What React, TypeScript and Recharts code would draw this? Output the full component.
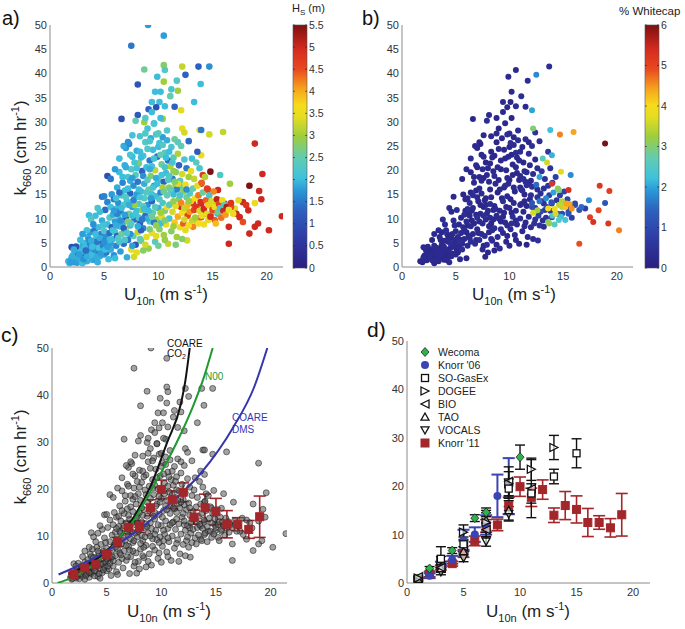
import React from 'react';
import { ScatterChart, Scatter, XAxis, YAxis, ErrorBar } from 'recharts';

const FONT = '"Liberation Sans", Arial, Helvetica, sans-serif';

// ---------- tick labels ----------
const xTicks = [0, 5, 10, 15, 20];
const yTicksFine = [0, 5, 10, 15, 20, 25, 30, 35, 40, 45, 50];
const yTicksCoarse = [0, 10, 20, 30, 40, 50];
const hsTicks = [0, 0.5, 1, 1.5, 2, 2.5, 3, 3.5, 4, 4.5, 5, 5.5];
const hsTickLabels = ['0', '0.5', '1', '1.5', '2', '2.5', '3', '3.5', '4', '4.5', '5', '5.5'];
const wcTicks = [0, 1, 2, 3, 4, 5, 6];

// ---------- individual observations: [U10n, k660, Hs, %whitecap|null] ----------
const pointsA: [number, number, number, number | null][] = [
  [9.05,50,1.8,null],[10.5,47.8,1.8,null],[7.5,45.7,1.5,null],[10.5,41.7,2.8,null],[8.7,40.8,2.6,null],[10.6,40.7,2.3,0.3],[12.2,41.4,3.2,null],[13.7,41.4,1.3,0.4],[14.7,41.4,1.7,null],[12.5,39.7,1.3,1.8],
  [9.9,39.3,2.0,0.3],[10.5,38.3,3.0,null],[8.1,37.7,1.1,null],[13.9,37.8,2.0,null],[11.7,38.5,2.3,0.4],[11.8,36.4,3.0,null],[11.2,36.7,2.2,null],[9.7,36.2,2.0,null],[10.2,36.2,2.0,0.3],[11.1,35.3,2.5,0.4],
  [13.3,34.1,2.0,null],[9.4,34.1,2.0,0.3],[10.1,34.1,2.0,0.2],[10.6,33.2,2.0,0.4],[9.1,32.6,1.3,null],[9.8,33.0,1.0,0.3],[11.5,33.1,1.3,0.3],[12.1,32.4,3.4,2.0],[8.1,31.4,1.2,0.3],[6.6,30.6,1.0,0.2],
  [7.9,30.2,2.5,0.4],[10.4,30.6,3.0,null],[8.7,29.9,3.0,null],[9.6,29.7,2.0,0.3],[13.8,28.3,3.4,2.2],[14.7,27.4,3.3,4.6],[15.97,27.9,3.2,4.4],[13.95,28.3,1.5,null],[12.2,28.6,3.4,3.0],[18.9,25.5,5.0,6.0],
  [14.8,19.7,5.5,3.7],[13.95,23.1,3.5,2.1],[13.6,23.8,1.2,0.6],[15.7,19.0,2.3,1.8],[16.6,17.2,3.0,null],[14.1,19.0,4.7,null],[13.95,17.2,4.8,5.2],[14.6,15.9,4.5,3.0],[15.5,15.9,5.0,5.3],[19.6,19.2,5.0,null],
  [18.4,16.8,5.5,5.2],[19.3,15.7,5.0,5.1],[19.5,14.0,5.0,null],[17.8,13.4,5.0,null],[18.1,12.8,4.8,null],[18.9,13.2,3.5,1.2],[17.4,13.8,3.4,1.8],[17.05,12.1,3.4,0.8],[18.3,11.7,5.0,5.0],[17.5,10.3,5.0,5.1],
  [21.4,10.5,5.0,null],[17.8,9.3,4.5,5.3],[18.9,8.3,5.0,null],[19.2,9.0,5.0,5.2],[18.4,6.9,5.0,null],[20.2,7.6,5.0,4.6],[16.5,8.3,5.0,null],[16.5,4.8,5.0,4.9],[15.2,9.7,4.4,2.3],[15.8,12.1,5.0,4.5],
  [16.1,13.1,4.8,0.8],[15.3,13.1,4.0,4.4],[14.9,12.4,3.5,3.4],[14.3,11.0,4.5,3.6],[13.95,13.1,5.0,1.0],[13.6,12.1,3.0,3.9],[13.2,13.1,4.8,0.5],[12.6,11.7,3.5,3.3],[12.1,12.4,5.0,1.0],[12.65,5.5,3.3,0.5],
  [13.6,9.3,4.0,3.0],[13.95,10.3,4.5,0.7],[14.6,9.7,3.4,2.5],[13.2,8.3,4.2,0.4],[14.9,11.0,2.3,1.0],[15.5,11.0,2.0,1.2],[16.7,12.4,4.5,1.5],[17.2,11.0,5.0,null],[5.3,18.8,1.0,null],[4.8,14.5,1.5,0.3],
  [3.6,10.7,2.0,null],[7.75,2.1,3.3,0.3],[2.0,4.1,1.0,0.3],[12.1,16.6,2.5,0.5],[11.6,16.9,3.0,0.4],
  [1.7,1.2,1.9,0.2],[1.8,0.8,2.0,null],[2.0,1.6,1.8,0.3],[2.1,2.4,2.0,0.2],[2.2,1.0,1.7,null],[2.3,3.0,1.9,0.3],[2.4,1.8,2.1,0.2],[2.5,0.9,1.8,null],[2.6,2.6,1.6,0.3],[2.7,3.6,2.0,0.2],
  [2.8,1.4,1.9,0.3],[2.9,2.2,1.4,0.2],[3.0,4.4,1.9,0.3],[3.0,0.8,2.0,0.2],[3.1,3.0,1.8,0.3],[3.2,1.9,1.7,0.2],[3.3,5.0,2.0,null],[3.3,2.6,1.3,0.3],[3.4,1.2,1.9,0.3],[3.5,3.8,1.8,0.2],
  [3.5,6.2,1.9,0.3],[3.6,2.0,2.1,0.2],[3.7,4.6,1.6,0.3],[3.7,7.2,1.8,0.2],[3.8,3.2,1.2,0.3],[3.9,1.5,1.9,0.2],
  [4.0,5.4,1.8,0.3],[4.0,2.6,2.0,0.2],[4.1,7.6,1.5,0.4],[4.2,4.0,1.9,null],[4.2,1.4,1.8,0.3],[4.3,6.3,2.1,0.2],[4.4,3.0,1.6,0.3],[4.5,5.0,1.3,0.4],[4.5,8.2,2.0,null],[4.6,2.2,1.9,0.3],
  [4.7,4.2,1.8,0.2],[4.7,6.8,1.5,0.3],[4.8,3.4,2.0,null],[4.8,9.6,1.9,0.4],[4.9,5.6,1.2,0.3],[5.0,2.6,1.8,0.2],[5.0,7.4,2.2,0.3],[5.1,4.6,1.9,null],[5.1,11.8,1.4,0.4],[5.2,6.2,1.7,0.3],
  [5.2,3.0,1.5,0.2],[5.3,8.8,2.0,0.3],[5.3,13.4,1.6,null],[5.4,5.2,1.9,0.4],[5.4,1.6,2.0,0.3],[5.5,10.2,2.3,0.2],[5.5,7.0,1.4,0.3],
  [5.6,3.6,1.9,0.4],[5.6,12.4,2.1,null],[5.7,8.2,1.3,0.3],[5.7,15.0,1.8,0.2],[5.8,5.8,2.0,0.3],[5.8,10.8,1.9,0.4],[5.9,2.4,1.7,null],[5.9,14.0,1.5,0.3],[6.0,7.2,2.2,0.2],[6.0,9.4,1.8,0.3],
  [6.1,12.0,2.0,0.4],[6.1,4.4,1.6,0.3],[6.2,16.4,1.9,null],[6.2,6.4,1.3,0.2],[6.3,10.6,2.4,0.3],[6.3,13.2,1.7,0.4],[6.4,8.4,2.0,0.3],[6.4,19.6,2.0,0.2],[6.5,3.2,1.8,null],[6.5,11.6,1.5,0.3],
  [6.6,14.8,2.2,0.4],[6.6,6.8,2.6,0.3],[6.7,9.0,1.9,0.2],[6.7,17.4,1.6,0.3],[6.8,12.8,2.3,null],[6.8,4.8,1.4,0.4],[6.9,21.0,1.9,0.3],[6.9,15.8,2.0,0.2],[7.0,7.8,3.3,0.3],[7.0,10.2,1.2,0.4],[7.0,24.6,1.8,0.3],
  [7.1,13.6,2.1,0.2],[7.1,2.0,1.9,null],[7.2,18.6,2.2,0.3],[7.2,5.6,1.5,0.4],[7.3,11.0,2.6,0.3],[7.3,25.4,1.6,0.2],[7.4,15.2,1.3,0.3],[7.4,8.6,2.0,null],[7.5,20.2,2.3,0.4],[7.5,3.6,3.4,0.3],
  [7.6,12.4,1.8,0.2],[7.6,22.8,2.0,0.3],[7.7,6.4,2.5,0.4],[7.7,16.8,1.7,null],[7.8,9.8,1.4,0.3],[7.8,14.2,2.1,0.2],[7.9,19.0,2.4,0.3],[7.9,4.6,1.1,0.4],[8.0,11.6,2.0,0.3],[8.0,24.0,1.9,null],
  [8.1,7.2,3.2,0.2],[8.1,17.6,1.5,0.3],[8.2,13.0,2.3,0.4],[8.2,21.4,2.7,0.3],[8.3,9.0,1.2,0.2],[8.3,27.0,2.2,0.3],[8.4,15.6,2.0,null],[8.4,5.4,2.6,0.4],[8.5,19.8,1.3,0.3],[8.5,11.8,2.9,0.2],
  [8.6,23.0,2.1,0.3],[8.6,8.0,1.6,0.4],[8.7,14.2,2.4,null],[8.7,17.2,1.9,0.3],[8.8,25.8,2.3,0.2],[8.8,10.6,1.4,0.3],[8.9,6.2,3.4,0.4],[8.9,20.6,2.0,0.3],[9.0,12.8,1.7,null],[9.0,28.6,2.1,0.2],
  [9.1,16.0,2.6,0.3],[9.1,3.8,2.9,0.4],[9.2,22.0,1.5,0.3],[9.2,9.4,2.2,0.2],[9.3,18.8,2.8,null],[9.3,26.6,1.9,0.3],[9.4,13.6,1.3,0.4],[9.4,7.0,3.5,0.3],[9.5,24.2,2.0,0.2],[9.5,11.2,2.5,0.3],
  [9.6,29.6,2.2,null],[9.6,16.8,1.8,0.4],[9.7,20.0,3.2,0.3],[9.7,5.2,2.4,0.2],[9.8,14.6,2.0,0.3],[9.8,27.4,2.3,0.4],[9.9,9.8,3.0,null],[9.9,22.8,1.4,0.3],[10.0,18.0,2.4,0.2],[10.0,12.2,1.9,0.3],
  [10.1,25.6,2.1,0.4],[10.1,7.8,2.8,0.3],[10.2,15.4,1.6,null],[10.2,30.8,2.0,0.2],[10.3,21.2,2.6,0.3],[10.3,10.4,3.4,0.4],[10.4,13.2,2.2,0.3],[10.4,26.8,1.8,0.2],[10.5,17.6,1.3,null],[10.5,6.6,3.0,0.3],
  [10.6,23.6,2.3,0.4],[10.6,11.6,2.7,0.3],[10.7,19.4,2.0,0.2],[10.7,8.8,3.5,0.3],[10.8,14.8,2.5,null],[10.8,26.2,1.9,0.4],[10.9,22.0,1.4,0.3],[10.9,4.8,3.2,0.2],[11.0,16.4,2.9,0.3],[11.0,10.0,2.1,0.4],
  [11.1,20.8,3.1,null],[11.1,13.0,3.6,0.3],[11.2,24.8,2.2,0.2],[11.2,7.4,2.8,0.3],[11.3,18.2,1.5,0.4],[11.3,11.4,3.3,0.3],[11.4,22.6,2.4,null],[11.4,15.0,2.0,0.2],[11.5,9.2,3.8,0.3],[11.5,26.4,2.6,0.4],
  [11.6,19.6,2.8,0.3],[11.6,12.6,3.4,0.2],[11.7,16.0,1.6,null],[11.7,6.2,3.0,0.3],[11.8,23.4,3.1,0.4],[11.8,10.4,4.0,0.3],[11.9,14.0,2.7,0.2],[11.9,21.0,1.3,0.3],
  [12.0,8.2,3.5,0.4],[12.0,17.8,2.4,0.3],[12.1,13.2,4.2,1.2],[12.1,25.0,2.5,0.5],[12.2,11.2,3.7,3.6],[12.2,19.2,3.3,0.4],[12.3,15.6,2.9,null],[12.3,9.0,4.4,0.5],[12.4,22.2,2.2,0.3],[12.4,12.2,3.2,0.6],
  [12.5,17.0,3.6,1.5],[12.5,7.6,3.4,null],[12.6,14.4,2.6,0.5],[12.6,20.4,1.5,0.4],[12.7,10.6,4.6,0.8],[12.7,12.8,3.9,null],[12.8,18.6,3.0,2.0],[12.8,8.6,3.7,0.5],[12.9,15.2,2.3,0.4],[12.9,11.4,4.1,1.0],
  [13.0,19.8,3.5,0.6],[13.0,13.6,3.8,0.5],[13.1,9.6,3.2,0.4],[13.1,22.4,2.0,2.6],[13.2,16.2,2.5,0.5],[13.3,11.8,4.6,0.7],[13.3,18.2,3.2,0.5],[13.4,14.2,3.6,1.8],[13.4,10.2,3.0,0.5],[13.5,21.6,2.4,3.6],
  [13.5,12.4,4.8,0.9],[13.6,16.8,3.4,0.6],[13.7,9.0,3.7,3.2],[13.7,14.8,4.3,0.8],[13.8,11.6,3.3,0.6],[13.8,20.4,2.2,0.5],[13.9,13.4,4.9,1.2],[14.0,17.4,4.4,0.7],[14.0,10.6,3.5,2.4],[14.1,15.4,2.6,2.0],
  [14.2,12.0,5.0,3.9],[14.2,8.8,3.6,2.6],[14.3,18.6,3.1,0.8],[14.4,13.8,4.4,0.6],[14.5,11.0,3.4,1.0],[14.5,16.2,4.7,3.1],[14.6,12.8,3.8,3.5],[14.7,14.8,2.2,0.8],[14.8,10.4,4.9,2.2],[14.9,13.6,3.3,3.4],
  [15.0,11.8,4.5,null],[15.1,15.6,4.2,0.9],[15.2,12.4,3.5,4.2],[15.3,9.0,3.9,null],[15.4,14.0,5.1,0.9],[15.5,11.4,2.6,1.0],[15.6,13.0,4.6,4.4],[15.7,12.2,2.1,0.9],[15.8,10.2,4.3,0.8],[15.9,13.8,3.6,null],
  [16.0,11.6,5.0,null],[16.1,12.8,2.4,1.0],[16.2,10.8,4.1,null],[16.3,12.4,5.2,null],[16.5,11.8,3.4,1.2],[16.7,13.2,4.8,null],[16.9,11.0,3.5,null],
  [3.2,4.0,2.0,0.3],[3.6,5.6,1.7,0.2],[4.4,1.0,1.9,0.3],[4.9,8.6,2.1,0.4],[5.6,4.8,1.8,0.3],[6.0,1.8,2.0,0.2],[6.2,11.0,1.6,0.3],[6.4,5.2,2.2,0.4],[6.8,8.0,1.3,null],[7.0,14.4,2.3,0.3],
  [7.2,9.4,2.8,0.2],[7.4,6.8,1.7,0.3],[7.6,10.6,2.0,0.4],[7.8,12.8,3.0,0.3],[8.0,3.0,3.4,0.2],[8.0,15.0,1.8,null],[8.2,10.2,2.2,0.3],[8.4,7.6,1.3,0.4],[8.6,12.6,2.5,0.3],[8.8,4.6,3.3,0.2],
  [9.0,10.0,1.9,0.3],[9.2,7.8,2.7,0.4],[9.4,15.0,2.1,null],[9.6,9.2,1.5,0.3],[9.8,6.4,3.4,0.2],[10.0,4.4,2.6,0.3],[10.2,9.0,2.0,0.4],[10.4,16.4,3.1,0.3],[10.6,5.6,2.9,0.2],[10.8,12.4,3.6,null],
  [11.0,18.8,2.3,0.3],[11.2,15.8,2.0,0.4],[11.4,8.4,3.0,0.3],[11.6,4.6,2.7,0.2],[11.8,17.2,3.4,0.3],[12.0,14.8,2.2,0.4],[12.2,5.8,2.8,0.3],[12.4,9.8,3.3,0.5],[12.6,16.0,1.7,0.4],[12.8,13.6,2.9,1.6],
  [7.4,17.8,1.9,0.3],[7.8,21.6,2.2,0.2],[8.2,16.0,2.0,0.3],[8.6,18.8,1.7,0.4],[9.0,24.4,2.3,0.3],[9.4,20.8,2.1,null],[9.8,18.4,1.9,0.3],[10.2,23.2,2.5,0.2],[10.6,20.6,2.2,0.3],[11.0,23.8,2.0,0.4],
  [11.4,19.8,2.9,0.3],[11.8,25.8,2.4,0.2],[8.4,22.6,2.0,0.3],[9.2,26.0,2.2,null],[10.0,27.6,2.4,0.3],[10.8,28.2,2.3,0.4],[7.6,27.2,2.1,0.3],[8.8,30.8,2.3,0.2],[9.4,32.0,2.0,0.3],[12.8,26.0,1.4,0.4],[12.4,27.8,3.3,0.5],
  [2.4,4.2,1.1,0.3],[2.8,5.6,2.0,0.2],[3.4,7.6,2.1,0.3],[3.8,9.8,2.3,0.4],[4.2,10.6,2.0,null],[4.6,11.4,2.0,0.3],[2.2,3.6,1.9,0.2],[3.0,6.8,1.8,0.3],[4.0,8.8,1.7,0.4],[4.4,12.2,2.2,0.3],
  [5.0,14.6,1.6,null],[3.6,2.4,2.0,0.3],[5.6,18.2,1.5,0.2],[6.0,20.2,1.8,0.3],[6.4,22.4,2.0,0.4],[6.8,25.0,1.9,0.3],[7.2,25.8,1.7,0.2],
  [2.3,1.4,1.8,0.2],[2.6,1.9,1.9,0.3],[2.9,3.2,2.0,0.2],[3.1,1.6,1.7,0.3],[3.4,2.2,1.9,0.2],[3.6,3.4,1.8,0.3],[3.9,2.6,2.0,0.2],[4.1,3.6,1.7,0.3],[4.3,2.0,1.9,0.2],[4.5,4.0,2.1,0.3],
  [4.7,2.8,1.8,0.2],[4.9,4.4,1.6,0.3],[5.1,3.6,2.0,0.2],[4.3,5.2,1.5,0.3],[4.6,6.0,1.9,0.2],[3.9,4.2,2.0,0.3],[3.3,3.4,1.4,0.2],[2.7,2.6,1.8,0.3],[3.8,5.4,1.9,0.2],[5.3,4.2,1.8,0.3],
  [5.5,5.6,2.0,0.2],[5.0,5.2,1.7,0.3],[4.2,6.8,2.0,0.2],[2.0,2.0,1.9,0.3],[1.9,1.0,1.8,0.2],
  [5.8,7.6,2.1,0.3],[6.1,8.6,1.9,0.2],[6.3,6.0,2.3,0.3],[6.5,9.6,1.7,0.2],[6.6,12.2,2.0,0.3],[6.9,10.8,1.8,0.2],[7.1,7.0,2.2,0.3],[7.3,12.8,1.9,0.2],[7.5,9.0,2.4,0.3],[7.7,13.8,1.6,0.2],
  [7.9,11.0,2.1,0.3],[8.1,8.4,1.9,0.2],[8.3,14.4,2.2,0.3],[8.5,9.8,1.5,0.2],[8.7,12.0,2.0,0.3],[8.9,15.4,2.3,0.2],[7.2,16.2,2.0,0.3],[7.6,18.4,1.8,0.2],[8.0,20.4,2.1,0.3],[6.4,15.4,1.4,0.2],
  [6.7,18.6,2.0,0.3],[7.0,20.6,1.9,0.2],[7.4,23.2,2.2,0.3],[8.3,23.8,2.0,0.2],[8.8,27.6,2.3,0.3],[6.1,14.2,2.1,0.3],[5.9,11.6,1.8,0.2],[6.9,5.6,2.2,0.3],[7.6,4.4,1.8,0.2],[8.3,5.8,2.5,0.3],[8.6,3.4,2.8,0.2],
  [9.1,11.6,2.0,0.3],[9.3,14.2,1.8,0.2],[9.5,16.4,2.2,0.3],[9.7,12.4,2.4,0.2],[9.9,17.2,2.0,0.3],[10.1,14.0,2.3,0.2],[10.3,19.0,2.1,0.3],[10.5,15.6,2.6,0.2],[10.7,22.6,2.0,0.3],[10.9,18.0,2.3,0.2],
  [11.1,16.0,2.5,0.3],[11.3,21.6,2.2,0.2],[11.5,17.6,2.8,0.3],[9.2,20.2,1.9,0.2],[9.6,22.4,2.1,0.3],[10.0,24.8,2.0,0.2],[10.4,25.2,2.3,0.3],[9.0,18.0,2.4,0.2],[9.8,8.6,2.9,0.3],[10.2,11.2,3.0,0.2],
  [10.6,9.6,2.7,0.3],[11.0,12.8,2.4,0.2],[11.4,13.6,2.9,0.3],[9.4,10.4,2.6,0.2]
];

// ---------- parameterisation curves (panel c): [U10n, k660] ----------
const coareCo2: [number, number][] = [[1.5,1.8],[3,3.6],[4.4,5.7],[6,9.2],[7.5,14.1],[9,20.5],[10.5,29.7],[11.8,38.2],[12.2,43],[12.6,50]];
const n00: [number, number][] = [[0.5,0],[2,1.3],[3,2.6],[4,4.2],[5.8,8.5],[6.5,10.6],[7.5,13.4],[8.5,17.4],[9.6,21.9],[10.7,26.6],[11.8,31.8],[12.9,37.6],[13.9,43.8],[14.7,50]];
const coareDms: [number, number][] = [[0.6,1.8],[2.9,4.2],[4.4,6.0],[7.5,10.6],[10.5,16.3],[13.6,23.3],[16.6,33.2],[18.5,41.7],[19.7,50]];

// ---------- binned means [U10n, k660, error] ----------
const knorr11: [number, number, number][] = [[2,1.8,0.5],[3,3.2,0.5],[4,4.0,0.5],[5,6.1,0.8],[6,8.7,1.0],[7,11.8,1.3],[8,12.0,1.2],[9,16.0,1.7],[10,19.9,2.0],[11,17.7,1.9],[12,19.3,2.0],[13,14.0,1.5],[14,16.0,2.9],[15,15.2,2.8],[16,12.5,2.9],[17,12.5,1.4],[18,11.4,1.9],[19,14.1,4.4]];
const wecoma: [number, number, number][] = [[2,3.0,0.4],[4,6.7,0.6],[6,13.4,0.7],[7,14.6,0.9],[10,26.0,2.5]];
const knorr06: [number, number, number][] = [[2,1.5,0.5],[3,3.8,0.6],[4,4.8,0.8],[5,8.8,2.2],[6,10.0,1.5],[7,12.0,2.0],[8,18.0,4.4],[9,20.0,5.8]];
const soGasEx: [number, number, number][] = [[3,5.0,2.5],[5,8.0,1.5],[9,19.5,2.0],[11,18.5,2.0],[13,22.0,1.5],[15,26.8,3.0]];
const dogee: [number, number, number][] = [[1,1.0,0.3],[3,4.5,1.0],[5,10.5,1.5],[7,12.5,2.0],[9,20.5,2.5],[11,23.5,2.3],[13,28.0,2.5]];
const bio: [number, number, number][] = [[1,1.3,0.3],[3,3.2,0.8],[5,7.5,1.2],[7,11.0,1.5],[9,21.0,3.0],[11,19.5,6.0]];
const tao: [number, number, number][] = [[1,0.8,0.3],[3,3.0,0.8],[5,6.5,1.0],[7,13.0,2.0],[9,15.0,2.0]];
const vocals: [number, number, number][] = [[1,0.6,0.3],[3,2.3,0.6],[5,5.2,0.8],[7,8.6,1.0],[9,14.3,1.5]];
const legendNames = ['Wecoma', "Knorr '06", 'SO-GasEx', 'DOGEE', 'BIO', 'TAO', 'VOCALS', "Knorr '11"];

// ---------- colour map (jet-like) ----------
const JET: [number, number[]][] = [
  [0, [43, 31, 128]], [0.12, [47, 58, 163]], [0.24, [46, 98, 192]], [0.32, [42, 152, 216]], [0.37, [63, 194, 220]],
  [0.45, [96, 203, 181]], [0.54, [156, 206, 62]], [0.62, [228, 220, 34]], [0.67, [246, 220, 27]], [0.74, [246, 160, 30]],
  [0.82, [232, 72, 31]], [0.9, [213, 43, 31]], [1, [125, 16, 16]],
];
function jet(f: number): string {
  const t = Math.max(0, Math.min(1, f));
  for (let i = 1; i < JET.length; i++) {
    if (t <= JET[i][0]) {
      const [f0, c0] = JET[i - 1];
      const [f1, c1] = JET[i];
      const u = (t - f0) / (f1 - f0);
      const c = c0.map((v, k) => Math.round(v + (c1[k] - v) * u));
      return `rgb(${c[0]},${c[1]},${c[2]})`;
    }
  }
  return 'rgb(125,16,16)';
}

// ---------- derived tables ----------
const dataA = pointsA.map(([x, y, h, w]) => ({ x, y, h, w }));
const dataB = dataA.filter((d) => d.w !== null).sort((a, b) => (a.w as number) - (b.w as number));
const toXY = (arr: [number, number][]) => arr.map(([x, y]) => ({ x, y }));
const toXYE = (arr: [number, number, number][]) => arr.map(([x, y, e]) => ({ x, y, e }));

// ---------- shapes ----------
const RED = '#a3262a';
const BLUE = '#3a44b4';
const GREEN = '#2eb24c';
const none = () => <g />;
const dotA = (p: any) => <circle cx={p.cx} cy={p.cy} r={3.3} fill={jet(p.payload.h / 5.5)} />;
const dotB = (p: any) => <circle cx={p.cx} cy={p.cy} r={3} fill={jet((p.payload.w as number) / 6)} />;
const dotC = (p: any) => (
  <circle cx={p.cx} cy={p.cy} r={3} fill="#555" fillOpacity={0.55} stroke="#111" strokeOpacity={0.65} strokeWidth={0.8} />
);
const square = (fill: string, stroke: string, s: number, sw = 1) => (p: any) => (
  <rect x={p.cx - s / 2} y={p.cy - s / 2} width={s} height={s} fill={fill} stroke={stroke} strokeWidth={sw} />
);
const diamond = (p: any) => (
  <path d={`M${p.cx},${p.cy - 4.5}L${p.cx + 4},${p.cy}L${p.cx},${p.cy + 4.5}L${p.cx - 4},${p.cy}Z`} fill={GREEN} stroke="#222" strokeWidth={0.8} />
);
const circleBlue = (p: any) => <circle cx={p.cx} cy={p.cy} r={4} fill={BLUE} />;
const tri = (dir: 'r' | 'l' | 'u' | 'd') => (p: any) => {
  const { cx, cy } = p;
  const s = 4;
  let d = '';
  if (dir === 'r') d = `M${cx - s},${cy - s}L${cx + s},${cy}L${cx - s},${cy + s}Z`;
  if (dir === 'l') d = `M${cx + s},${cy - s}L${cx - s},${cy}L${cx + s},${cy + s}Z`;
  if (dir === 'u') d = `M${cx},${cy - s}L${cx + s},${cy + s * 0.8}L${cx - s},${cy + s * 0.8}Z`;
  if (dir === 'd') d = `M${cx},${cy + s}L${cx + s},${cy - s * 0.8}L${cx - s},${cy - s * 0.8}Z`;
  return <path d={d} fill="#fff" fillOpacity={0.6} stroke="#111" strokeWidth={1.3} />;
};
const openSquare = square('#fff', '#111', 7, 1.3);
const redSquare = square(RED, RED, 8);
const legendShapes = [diamond, circleBlue, openSquare, tri('r'), tri('l'), tri('u'), tri('d'), redSquare];

// ---------- axes ----------
const tickStyle = { fontSize: 11, fill: '#333', fontFamily: FONT };
function axes(yTicks: number[]) {
  return [
    <XAxis key="x" type="number" dataKey="x" domain={[0, 21.5]} ticks={xTicks} interval={0} allowDataOverflow height={20}
      tickLine={false} tickSize={3} tickMargin={2} axisLine={{ stroke: '#8a8a8a' }} tick={tickStyle} />,
    <YAxis key="y" type="number" dataKey="y" domain={[0, 50]} ticks={yTicks} interval={0} allowDataOverflow width={30}
      tickLine={false} tickSize={2} tickMargin={1} axisLine={{ stroke: '#8a8a8a' }} tick={tickStyle} />,
  ];
}

function Panel({ rect, yTicks, children }: { rect: number[]; yTicks: number[]; children: any }) {
  const [l, t, w, h] = rect;
  return (
    <div style={{ position: 'absolute', left: l - 45, top: t - 10 }}>
      <ScatterChart width={w + 55} height={h + 35} margin={{ top: 10, right: 10, left: 15, bottom: 5 }}>
        {axes(yTicks)}
        {children}
      </ScatterChart>
    </div>
  );
}

const rectA = [50, 25, 233, 242];
const rectB = [402, 25, 231, 242];
const rectC = [52, 348, 235, 235];
const rectD = [407, 341, 243, 242];

function XTitle({ cx, y }: { cx: number; y: number }) {
  return (
    <text x={cx} y={y} textAnchor="middle" fontSize={17} fill="#222" fontFamily={FONT}>
      U<tspan fontSize={11} dy={5}>10n</tspan>
      <tspan dy={-5}> (m s</tspan>
      <tspan fontSize={11} dy={-7}>-1</tspan>
      <tspan dy={7}>)</tspan>
    </text>
  );
}
function YTitle({ x, cy }: { x: number; cy: number }) {
  return (
    <text x={x} y={cy} transform={`rotate(-90 ${x} ${cy})`} textAnchor="middle" fontSize={17} fill="#222" fontFamily={FONT}>
      k<tspan fontSize={11} dy={5}>660</tspan>
      <tspan dy={-5}> (cm hr</tspan>
      <tspan fontSize={11} dy={-7}>-1</tspan>
      <tspan dy={7}>)</tspan>
    </text>
  );
}

function ColorBar({ id, x, y0, y1, w, ticks, labels, max }: any) {
  const stops = JET.map(([f, c]) => <stop key={f} offset={`${f * 100}%`} stopColor={`rgb(${c[0]},${c[1]},${c[2]})`} />);
  return (
    <g>
      <defs>
        <linearGradient id={id} x1="0" y1="1" x2="0" y2="0">{stops}</linearGradient>
      </defs>
      <rect x={x} y={y0} width={w} height={y1 - y0} fill={`url(#${id})`} stroke="#555" strokeWidth={0.6} />
      {ticks.map((t: number, i: number) => {
        const yy = y1 - (t / max) * (y1 - y0);
        return (
          <g key={t}>
            <line x1={x} x2={x + 2} y1={yy} y2={yy} stroke="#222" strokeWidth={0.6} />
            <line x1={x + w - 2} x2={x + w} y1={yy} y2={yy} stroke="#222" strokeWidth={0.6} />
            <text x={x + w + 2} y={yy + 3.5} fontSize={10.5} fill="#333" fontFamily={FONT}>{labels[i]}</text>
          </g>
        );
      })}
    </g>
  );
}

export default function App() {
  return (
    <div style={{ position: 'absolute', left: 0, top: 0, width: 685, height: 629, background: '#fff', overflow: 'hidden' }}>
      <Panel rect={rectA} yTicks={yTicksFine}>
        <Scatter data={dataA} shape={dotA} isAnimationActive={false} />
      </Panel>
      <Panel rect={rectB} yTicks={yTicksFine}>
        <Scatter data={dataB} shape={dotB} isAnimationActive={false} />
      </Panel>
      <Panel rect={rectC} yTicks={yTicksCoarse}>
        <Scatter data={dataA} shape={dotC} isAnimationActive={false} />
        <Scatter data={toXY(coareCo2)} shape={none} line={{ stroke: '#111', strokeWidth: 2 }} lineJointType="monotoneX" isAnimationActive={false} />
        <Scatter data={toXY(n00)} shape={none} line={{ stroke: '#1f9a2e', strokeWidth: 2 }} lineJointType="monotoneX" isAnimationActive={false} />
        <Scatter data={toXY(coareDms)} shape={none} line={{ stroke: '#3535b0', strokeWidth: 2 }} lineJointType="monotoneX" isAnimationActive={false} />
        <Scatter data={toXYE(knorr11)} shape={redSquare} isAnimationActive={false}>
          <ErrorBar dataKey="e" direction="y" width={6} stroke={RED} strokeWidth={1.6} />
        </Scatter>
      </Panel>
      <Panel rect={rectD} yTicks={yTicksCoarse}>
        <Scatter data={toXYE(knorr11)} shape={redSquare} isAnimationActive={false}>
          <ErrorBar dataKey="e" direction="y" width={6} stroke={RED} strokeWidth={1.6} />
        </Scatter>
        <Scatter data={toXYE(knorr06)} shape={circleBlue} isAnimationActive={false}>
          <ErrorBar dataKey="e" direction="y" width={6} stroke={BLUE} strokeWidth={2} />
        </Scatter>
        <Scatter data={toXYE(vocals)} shape={tri('d')} isAnimationActive={false}>
          <ErrorBar dataKey="e" direction="y" width={5} stroke="#111" strokeWidth={1.4} />
        </Scatter>
        <Scatter data={toXYE(tao)} shape={tri('u')} isAnimationActive={false}>
          <ErrorBar dataKey="e" direction="y" width={5} stroke="#111" strokeWidth={1.4} />
        </Scatter>
        <Scatter data={toXYE(bio)} shape={tri('l')} isAnimationActive={false}>
          <ErrorBar dataKey="e" direction="y" width={5} stroke="#111" strokeWidth={1.4} />
        </Scatter>
        <Scatter data={toXYE(dogee)} shape={tri('r')} isAnimationActive={false}>
          <ErrorBar dataKey="e" direction="y" width={5} stroke="#111" strokeWidth={1.4} />
        </Scatter>
        <Scatter data={toXYE(soGasEx)} shape={openSquare} isAnimationActive={false}>
          <ErrorBar dataKey="e" direction="y" width={5} stroke="#111" strokeWidth={1.4} />
        </Scatter>
        <Scatter data={toXYE(wecoma)} shape={diamond} isAnimationActive={false}>
          <ErrorBar dataKey="e" direction="y" width={5} stroke="#111" strokeWidth={1.4} />
        </Scatter>
      </Panel>

      <svg width={685} height={629} style={{ position: 'absolute', left: 0, top: 0, pointerEvents: 'none' }}>
        <text x={2} y={25} fontSize={20} fill="#111" fontFamily={FONT}>a)</text>
        <text x={362} y={25} fontSize={20} fill="#111" fontFamily={FONT}>b)</text>
        <text x={1} y={342} fontSize={21} fill="#111" fontFamily={FONT}>c)</text>
        <text x={367} y={337} fontSize={21} fill="#111" fontFamily={FONT}>d)</text>

        <XTitle cx={166} y={300} />
        <XTitle cx={514} y={300} />
        <XTitle cx={169} y={617} />
        <XTitle cx={528} y={617} />
        <YTitle x={26} cy={148} />
        <YTitle x={26} cy={457} />

        <text x={292} y={12} fontSize={11} fill="#222" fontFamily={FONT}>
          H<tspan fontSize={8} dy={3}>S</tspan><tspan dy={-3}> (m)</tspan>
        </text>
        <ColorBar id="cbA" x={293} y0={25} y1={268} w={14} ticks={hsTicks} labels={hsTickLabels} max={5.5} />
        <text x={619} y={15} fontSize={11.5} fill="#222" fontFamily={FONT}>% Whitecap</text>
        <ColorBar id="cbB" x={645} y0={25} y1={268} w={14} ticks={wcTicks} labels={wcTicks.map(String)} max={6} />

        <text x={167} y={347} fontSize={10} fill="#111" fontFamily={FONT}>COARE</text>
        <text x={167} y={357} fontSize={10} fill="#111" fontFamily={FONT}>CO<tspan fontSize={7} dy={2}>2</tspan></text>
        <text x={205} y={380} fontSize={10} fill="#1f9a2e" fontFamily={FONT}>N00</text>
        <text x={232} y={421} fontSize={10} fill="#3535b0" fontFamily={FONT}>COARE</text>
        <text x={232} y={433} fontSize={10} fill="#3535b0" fontFamily={FONT}>DMS</text>

        {legendNames.map((name, i) => {
          const cy = 352 + i * 13;
          const Shape = legendShapes[i];
          return (
            <g key={name}>
              {Shape({ cx: 425, cy })}
              <text x={438} y={cy + 3.5} fontSize={10.5} fill="#222" fontFamily={FONT}>{name}</text>
            </g>
          );
        })}
      </svg>
    </div>
  );
}
